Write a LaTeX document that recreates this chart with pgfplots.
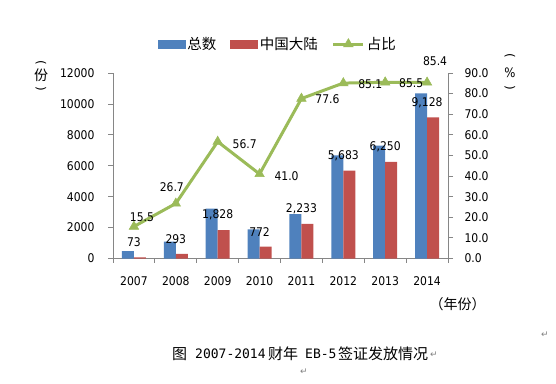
\documentclass[border=0pt]{standalone}
\usepackage{pgfplots}
\pgfplotsset{compat=1.18}
\usepackage{fontspec}
\setmainfont{DejaVu Sans Condensed}
\newfontfamily\cjk{Noto Sans CJK SC}
\newfontfamily\djv{DejaVu Sans}
\newfontfamily\djmono{DejaVu Sans Mono}
\definecolor{cblue}{HTML}{4F81BD}
\definecolor{cred}{HTML}{C0504D}
\definecolor{cgreen}{HTML}{9BBB59}
\definecolor{axgray}{HTML}{868686}
\pgfplotstableread{
x y lab dx dy
0 15.5 15.5 8 9
1 26.7 26.7 -4 16
2 56.7 56.7 27 -2
3 41.0 41.0 27 -2
4 77.6 77.6 26 -1
5 85.1 85.1 27 -1
6 85.5 85.5 26 -1
7 85.4 85.4 8 21
}\ratio
\begin{document}
\begin{tikzpicture}[x=1pt,y=1pt]
\path[use as bounding box] (0,0) rectangle (556,383);
\begin{axis}[
  at={(113pt,124.5pt)}, anchor=south west, scale only axis,
  width=335pt, height=185.5pt,
  xmin=-0.5, xmax=7.5, ymin=0, ymax=12000,
  axis x line*=bottom, axis y line*=left,
  axis line style={draw=axgray, line width=0.8pt},
  xtick={0,1,2,3,4,5,6,7},
  xticklabels={2007,2008,2009,2010,2011,2012,2013,2014},
  minor xtick={-0.5,0.5,1.5,2.5,3.5,4.5,5.5,6.5,7.5},
  major x tick style={draw=none},
  ytick={0,2000,4000,6000,8000,10000,12000},
  scaled y ticks=false,
  tick align=outside, major tick length=5pt, minor tick length=4pt,
  tick style={draw=axgray, line width=0.8pt},
  /pgf/number format/assume math mode=true,
  /pgf/number format/1000 sep={},
  tick label style={font=\fontsize{12}{14}\selectfont, text=black},
  xticklabel style={yshift=-10pt},
  yticklabel style={xshift=-10pt},
  clip=false,
]
\addplot[ybar, bar width=12pt, bar shift=-6pt, fill=cblue, draw=none]
  coordinates {(0,471) (1,1097) (2,3224) (3,1883) (4,2878) (5,6678) (6,7310) (7,10689)};
\addplot[ybar, bar width=12pt, bar shift=6pt, fill=cred, draw=none,
  nodes near coords, point meta=explicit symbolic,
  nodes near coords style={font=\fontsize{12}{14}\selectfont, text=black, anchor=center, yshift=15pt}]
  coordinates {(0,73)[73] (1,293)[293] (2,1828)[{1,828}] (3,772)[772] (4,2233)[{2,233}] (5,5683)[{5,683}] (6,6250)[{6,250}] (7,9128)[{9,128}]};
\end{axis}
\begin{axis}[
  at={(113pt,124.5pt)}, anchor=south west, scale only axis,
  width=335pt, height=185.5pt,
  xmin=-0.5, xmax=7.5, ymin=0, ymax=90,
  axis y line*=right, axis x line=none,
  axis line style={draw=axgray, line width=0.8pt},
  ytick={0,10,20,30,40,50,60,70,80,90},
  tick align=outside, major tick length=5pt,
  tick style={draw=axgray, line width=0.8pt},
  /pgf/number format/assume math mode=true,
  /pgf/number format/fixed, /pgf/number format/fixed zerofill, /pgf/number format/precision=1,
  tick label style={font=\fontsize{12}{14}\selectfont, text=black},
  yticklabel style={xshift=8pt},
  clip=false,
  legend columns=3,
  legend style={draw=none, fill=none, at={(0.134,1.156)}, anchor=west,
    font=\cjk\fontsize{14.5}{16}\selectfont, inner sep=0pt,
    /tikz/every even column/.append style={column sep=12pt}},
]
\addlegendimage{legend image code/.code={\fill[cblue] (0pt,-4pt) rectangle (27pt,4pt);}}
\addlegendentry{总数}
\addlegendimage{legend image code/.code={\fill[cred] (0pt,-4pt) rectangle (27pt,4pt);}}
\addlegendentry{中国大陆}
\addplot[color=cgreen, line width=3pt, mark=triangle*, mark size=5.5pt,
  mark options={solid, line width=0.5pt},
  legend image code/.code={\draw[mark repeat=2,mark phase=2] plot coordinates {(0pt,0pt) (15pt,0pt) (30pt,0pt)};},
  nodes near coords, point meta=explicit symbolic,
  visualization depends on={\thisrow{dx} \as \dx},
  visualization depends on={\thisrow{dy} \as \dy},
  nodes near coords style={font=\fontsize{12}{14}\selectfont, text=black, anchor=center, xshift=\dx pt, yshift=\dy pt}]
  table[x=x, y=y, meta=lab] {\ratio};
\addlegendentry{占比}
\end{axis}
% vertical axis titles
\node[font=\djv\fontsize{12}{12}\selectfont, inner sep=0pt] at (41,320) {\rotatebox{-90}{(}};
\node[font=\cjk\fontsize{14}{14}\selectfont, inner sep=0pt] at (41,307.5) {份};
\node[font=\djv\fontsize{12}{12}\selectfont, inner sep=0pt] at (41,294.5) {\rotatebox{-90}{)}};
\node[font=\djv\fontsize{12}{12}\selectfont, inner sep=0pt] at (510,327.5) {\rotatebox{-90}{(}};
\node[font=\fontsize{13}{13}\selectfont, inner sep=0pt] at (510,310) {\%};
\node[font=\djv\fontsize{12}{12}\selectfont, inner sep=0pt] at (510,295) {\rotatebox{-90}{)}};
\node[font=\cjk\fontsize{14}{14}\selectfont, inner sep=0pt] at (457.5,79) {（年份）};
% caption
\node[font=\cjk\fontsize{15}{15}\selectfont, anchor=west, inner sep=0pt] at (172,29) {图};
\node[font=\djmono\fontsize{13}{15}\selectfont, anchor=west, inner sep=0pt] at (195,29) {2007-2014};
\node[font=\cjk\fontsize{15}{15}\selectfont, anchor=west, inner sep=0pt] at (268,29) {财年};
\node[font=\djmono\fontsize{13}{15}\selectfont, anchor=west, inner sep=0pt] at (305,29) {EB-5};
\node[font=\cjk\fontsize{15}{15}\selectfont, anchor=west, inner sep=0pt] at (338,29) {签证发放情况};
\node[font=\djv\fontsize{9}{9}\selectfont, text=gray, inner sep=0pt] at (434,28) {↵};
\node[font=\djv\fontsize{9}{9}\selectfont, text=gray, inner sep=0pt] at (545,48) {↵};
\node[font=\djv\fontsize{9}{9}\selectfont, text=gray, inner sep=0pt] at (304,11) {↵};
\end{tikzpicture}
\end{document}
